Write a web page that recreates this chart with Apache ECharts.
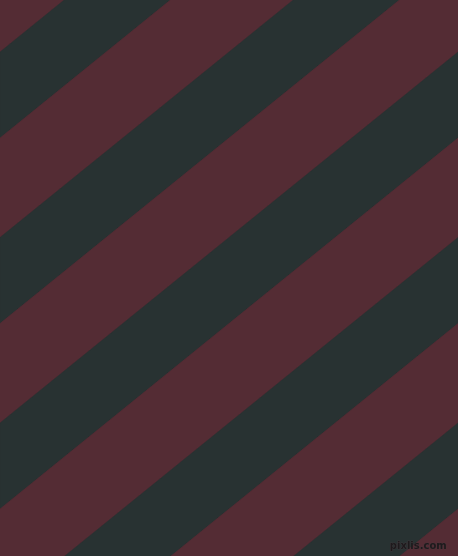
<!DOCTYPE html>
<html>
<head>
<meta charset="utf-8">
<script src="https://cdn.jsdelivr.net/npm/echarts@6/dist/echarts.min.js"></script>
<style>
  html, body { margin: 0; padding: 0; background: #542c34; }
  #main { width: 458px; height: 556px; }
</style>
</head>
<body>
<div id="main"></div>
<script>
// stripe edges, measured down the left edge (y where x = 0), top is 0
var stripeStart = [-47.5, 52, 138, 237.5, 323.5, 423, 509, 608.5, 694.5, 794, 880];
var stripeEnd   = [52, 138, 237.5, 323.5, 423, 509, 608.5, 694.5, 794, 880, 979.5];
var stripeTone  = [0, 1, 0, 1, 0, 1, 0, 1, 0, 1, 0];
var toneColors  = ['#542c34', '#283232'];
var stripeSlope = 0.81; // y drop per x step
var xRange = [0, 458];
var yRange = [0, 556];

var chart = echarts.init(document.getElementById('main'));

var data = [];
for (var i = 0; i < stripeStart.length; i++) {
  data.push([stripeStart[i], stripeEnd[i], stripeTone[i]]);
}

function renderStripe(params, api) {
  var c0 = api.value(0);
  var c1 = api.value(1);
  var x0 = xRange[0], x1 = xRange[1];
  var pts = [
    api.coord([x0, c0 - stripeSlope * x0]),
    api.coord([x1, c0 - stripeSlope * x1]),
    api.coord([x1, c1 - stripeSlope * x1]),
    api.coord([x0, c1 - stripeSlope * x0])
  ];
  return {
    type: 'polygon',
    shape: { points: pts },
    style: { fill: toneColors[api.value(2)], stroke: toneColors[api.value(2)], lineWidth: 0.5 }
  };
}

chart.setOption({
  backgroundColor: toneColors[0],
  animation: false,
  grid: { left: 0, right: 0, top: 0, bottom: 0 },
  xAxis: { type: 'value', min: xRange[0], max: xRange[1], show: false },
  yAxis: { type: 'value', min: yRange[0], max: yRange[1], inverse: true, show: false },
  series: [{
    type: 'custom',
    renderItem: renderStripe,
    clip: true,
    data: data
  }],
  graphic: [{
    type: 'text',
    right: 11,
    bottom: 4,
    z: 100,
    style: {
      text: 'pixlis.com',
      fontSize: 10,
      fontWeight: 'bold',
      fontFamily: 'DejaVu Sans',
      fill: '#1d1a1c',
      stroke: '#4a3a40',
      lineWidth: 0.6
    }
  }]
});
</script>
</body>
</html>
